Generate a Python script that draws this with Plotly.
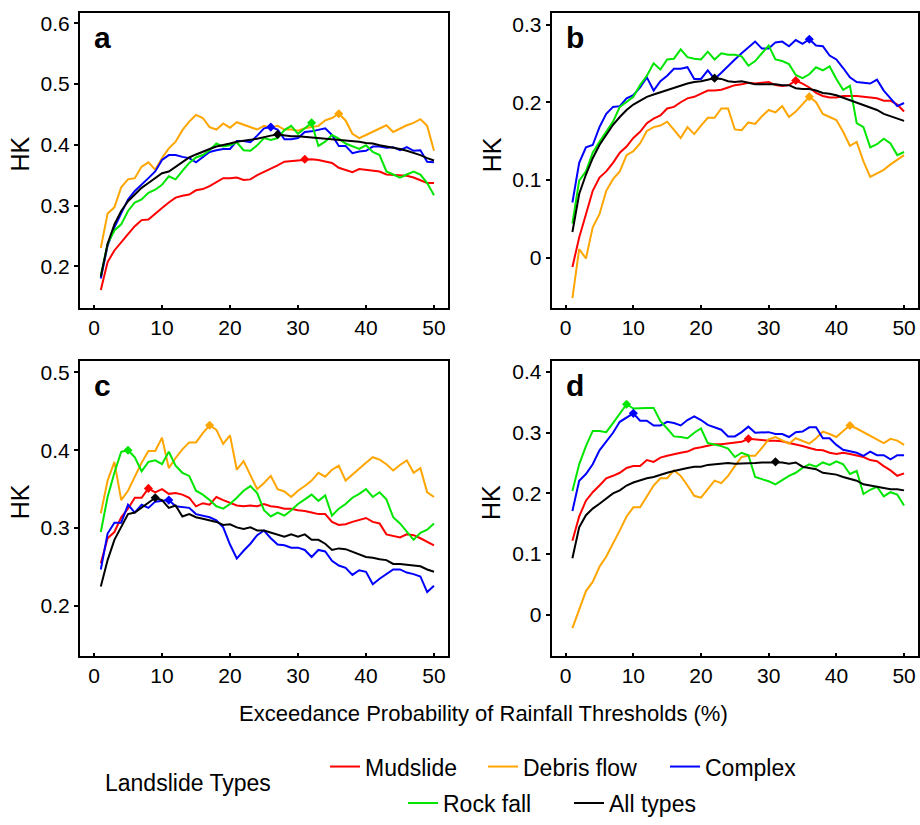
import plotly.graph_objects as go
import numpy as np

x_vals = list(range(1, 51))

# Panel a
a_mud = [0.161,0.207,0.226,0.240,0.253,0.266,0.276,0.277,0.287,0.296,0.305,0.313,0.316,0.318,0.325,0.327,0.332,0.339,0.345,0.345,
         0.346,0.342,0.343,0.350,0.355,0.361,0.366,0.372,0.373,0.374,0.376,0.376,0.375,0.373,0.370,0.362,0.358,0.355,0.360,0.359,
         0.357,0.356,0.351,0.350,0.350,0.349,0.346,0.341,0.337,0.337]
a_deb = [0.230,0.287,0.297,0.330,0.343,0.345,0.364,0.371,0.359,0.378,0.394,0.405,0.424,0.438,0.449,0.444,0.429,0.425,0.435,0.428,
         0.437,0.433,0.429,0.425,0.431,0.428,0.431,0.425,0.425,0.423,0.427,0.429,0.431,0.440,0.444,0.451,0.440,0.418,0.411,0.416,
         0.421,0.427,0.432,0.421,0.427,0.432,0.436,0.442,0.431,0.390]
a_com = [0.180,0.234,0.264,0.286,0.310,0.324,0.334,0.345,0.356,0.375,0.383,0.383,0.380,0.378,0.371,0.380,0.388,0.391,0.393,0.393,
         0.406,0.406,0.404,0.415,0.427,0.429,0.425,0.409,0.409,0.411,0.421,0.422,0.424,0.427,0.416,0.398,0.398,0.386,0.389,0.390,
         0.397,0.397,0.395,0.396,0.391,0.396,0.390,0.391,0.372,0.371]
a_roc = [0.185,0.237,0.259,0.269,0.291,0.305,0.310,0.321,0.326,0.334,0.348,0.343,0.357,0.370,0.379,0.383,0.391,0.402,0.397,0.399,
         0.404,0.391,0.390,0.399,0.411,0.408,0.411,0.424,0.431,0.418,0.427,0.436,0.398,0.405,0.416,0.410,0.402,0.397,0.393,0.399,
         0.388,0.383,0.356,0.351,0.346,0.351,0.356,0.351,0.337,0.317]
a_all = [0.183,0.237,0.269,0.291,0.307,0.318,0.329,0.337,0.345,0.353,0.356,0.364,0.371,0.379,0.384,0.389,0.393,0.397,0.399,0.402,
         0.405,0.406,0.408,0.410,0.413,0.415,0.417,0.415,0.414,0.414,0.413,0.412,0.411,0.410,0.409,0.408,0.408,0.406,0.405,0.403,
         0.402,0.399,0.397,0.396,0.393,0.390,0.387,0.383,0.378,0.374]

# Panel b
b_mud = [-0.012,0.026,0.056,0.086,0.103,0.111,0.122,0.135,0.143,0.154,0.162,0.173,0.179,0.183,0.192,0.194,0.200,0.205,0.207,0.211,
         0.215,0.215,0.216,0.219,0.222,0.223,0.225,0.224,0.225,0.226,0.222,0.221,0.222,0.228,0.224,0.219,0.212,0.208,0.206,0.206,
         0.208,0.208,0.208,0.207,0.206,0.205,0.202,0.202,0.197,0.188]
b_deb = [-0.052,0.011,-0.001,0.039,0.056,0.086,0.101,0.111,0.132,0.137,0.147,0.163,0.168,0.170,0.175,0.164,0.154,0.168,0.159,0.170,
         0.180,0.180,0.192,0.192,0.165,0.164,0.174,0.172,0.182,0.190,0.187,0.195,0.181,0.188,0.197,0.207,0.200,0.185,0.181,0.177,
         0.162,0.144,0.149,0.124,0.104,0.108,0.113,0.120,0.126,0.132]
b_com = [0.071,0.122,0.142,0.145,0.168,0.185,0.194,0.195,0.205,0.209,0.219,0.232,0.215,0.227,0.234,0.243,0.243,0.245,0.230,0.230,
         0.241,0.230,0.238,0.247,0.255,0.263,0.270,0.278,0.269,0.269,0.277,0.278,0.272,0.280,0.275,0.281,0.273,0.272,0.260,0.255,
         0.244,0.232,0.226,0.225,0.224,0.229,0.215,0.205,0.195,0.199]
b_roc = [0.044,0.099,0.111,0.135,0.149,0.162,0.175,0.194,0.201,0.207,0.222,0.234,0.250,0.242,0.255,0.256,0.268,0.258,0.256,0.255,
         0.265,0.255,0.263,0.261,0.261,0.259,0.247,0.253,0.263,0.273,0.255,0.253,0.249,0.235,0.231,0.236,0.245,0.241,0.246,0.230,
         0.216,0.221,0.173,0.168,0.142,0.146,0.153,0.147,0.132,0.136]
b_all = [0.033,0.082,0.107,0.128,0.145,0.158,0.171,0.181,0.190,0.197,0.202,0.207,0.210,0.213,0.215,0.218,0.221,0.224,0.226,0.227,
         0.229,0.231,0.230,0.227,0.226,0.227,0.225,0.223,0.223,0.223,0.223,0.222,0.222,0.218,0.217,0.217,0.215,0.212,0.211,0.209,
         0.206,0.202,0.199,0.196,0.193,0.190,0.185,0.182,0.179,0.176]

# Panel c
c_mud = [0.255,0.287,0.295,0.314,0.325,0.339,0.339,0.351,0.346,0.350,0.344,0.345,0.343,0.339,0.328,0.332,0.330,0.340,0.336,0.332,
         0.329,0.328,0.329,0.328,0.331,0.328,0.327,0.325,0.325,0.323,0.322,0.320,0.318,0.318,0.308,0.304,0.305,0.308,0.311,0.313,
         0.308,0.306,0.292,0.290,0.288,0.292,0.291,0.287,0.282,0.278]
c_deb = [0.319,0.361,0.385,0.336,0.348,0.366,0.384,0.399,0.399,0.416,0.377,0.390,0.401,0.410,0.410,0.422,0.432,0.426,0.408,0.419,
         0.375,0.386,0.367,0.350,0.358,0.367,0.350,0.347,0.340,0.348,0.354,0.361,0.371,0.366,0.375,0.380,0.361,0.369,0.377,0.384,
         0.391,0.388,0.382,0.374,0.381,0.387,0.371,0.377,0.346,0.340]
c_com = [0.247,0.293,0.307,0.307,0.330,0.320,0.330,0.326,0.334,0.335,0.336,0.328,0.327,0.326,0.318,0.316,0.314,0.310,0.301,0.279,
         0.261,0.271,0.280,0.291,0.297,0.287,0.279,0.278,0.275,0.275,0.272,0.263,0.272,0.270,0.258,0.252,0.249,0.240,0.246,0.244,
         0.228,0.235,0.241,0.247,0.247,0.243,0.241,0.238,0.218,0.226]
c_roc = [0.295,0.340,0.371,0.398,0.400,0.391,0.373,0.385,0.387,0.382,0.398,0.380,0.371,0.367,0.348,0.343,0.336,0.328,0.325,0.331,
         0.339,0.348,0.354,0.345,0.323,0.315,0.320,0.316,0.323,0.331,0.337,0.343,0.335,0.342,0.316,0.325,0.331,0.339,0.344,0.350,
         0.340,0.346,0.337,0.314,0.306,0.295,0.285,0.294,0.298,0.306]
c_all = [0.225,0.259,0.285,0.301,0.318,0.320,0.326,0.333,0.339,0.336,0.326,0.329,0.315,0.318,0.314,0.312,0.310,0.308,0.304,0.305,
         0.301,0.299,0.301,0.297,0.297,0.294,0.292,0.289,0.292,0.289,0.292,0.285,0.285,0.280,0.272,0.274,0.273,0.270,0.266,0.263,
         0.262,0.260,0.259,0.254,0.254,0.253,0.252,0.251,0.247,0.244]

# Panel d
d_mud = [0.122,0.162,0.188,0.202,0.213,0.225,0.229,0.234,0.242,0.245,0.245,0.255,0.252,0.259,0.262,0.265,0.267,0.269,0.274,0.276,
         0.278,0.281,0.281,0.282,0.283,0.285,0.290,0.289,0.287,0.287,0.287,0.286,0.283,0.281,0.278,0.275,0.272,0.271,0.267,0.265,
         0.267,0.265,0.263,0.260,0.255,0.253,0.245,0.238,0.229,0.233]
d_deb = [-0.022,0.007,0.039,0.054,0.079,0.096,0.117,0.139,0.162,0.177,0.177,0.194,0.213,0.225,0.225,0.238,0.229,0.213,0.196,0.193,
         0.207,0.221,0.217,0.229,0.245,0.260,0.262,0.262,0.275,0.289,0.293,0.287,0.282,0.291,0.287,0.282,0.291,0.302,0.298,0.293,
         0.303,0.312,0.307,0.301,0.296,0.289,0.283,0.290,0.287,0.280]
d_com = [0.171,0.221,0.232,0.248,0.271,0.286,0.300,0.318,0.325,0.332,0.320,0.320,0.312,0.312,0.318,0.316,0.312,0.321,0.327,0.321,
         0.313,0.309,0.305,0.294,0.294,0.301,0.310,0.300,0.301,0.301,0.298,0.298,0.293,0.301,0.302,0.309,0.309,0.291,0.291,0.280,
         0.272,0.269,0.267,0.262,0.269,0.263,0.263,0.256,0.263,0.263]
d_roc = [0.204,0.248,0.278,0.303,0.303,0.301,0.316,0.332,0.347,0.340,0.341,0.341,0.341,0.319,0.307,0.294,0.293,0.291,0.300,0.307,
         0.283,0.281,0.278,0.274,0.260,0.267,0.263,0.227,0.224,0.220,0.215,0.222,0.229,0.234,0.242,0.248,0.244,0.251,0.247,0.253,
         0.248,0.232,0.237,0.199,0.206,0.211,0.195,0.202,0.198,0.180]
d_all = [0.093,0.144,0.164,0.175,0.183,0.191,0.200,0.205,0.213,0.218,0.222,0.225,0.227,0.231,0.234,0.237,0.240,0.242,0.244,0.244,
         0.247,0.248,0.249,0.250,0.249,0.249,0.250,0.250,0.251,0.251,0.252,0.251,0.249,0.251,0.244,0.242,0.240,0.234,0.233,0.231,
         0.227,0.224,0.221,0.215,0.213,0.211,0.209,0.207,0.207,0.205]

type_names = ["Mudslide", "Debris flow", "Complex", "Rock fall", "All types"]
type_colors = ["#ff0000", "#ffa500", "#0000ff", "#00e600", "#000000"]
panels = {
    "a": [a_mud, a_deb, a_com, a_roc, a_all],
    "b": [b_mud, b_deb, b_com, b_roc, b_all],
    "c": [c_mud, c_deb, c_com, c_roc, c_all],
    "d": [d_mud, d_deb, d_com, d_roc, d_all],
}
# which series show a peak marker in each panel
peak_marked = {"a": [1, 1, 1, 1, 1], "b": [1, 1, 1, 0, 1], "c": [1, 1, 1, 1, 1], "d": [1, 1, 1, 1, 1]}
y_ranges = {"a": [0.131, 0.617], "b": [-0.065, 0.315], "c": [0.136, 0.515], "d": [-0.068, 0.419]}
x_ticks = [0, 10, 20, 30, 40, 50]

W, H = 920, 825
def px(x): return x / W
def py(y): return 1 - y / H

# pixel boxes: left, right, top, bottom
boxes = {"a": (80, 448, 13, 312), "b": (551.7, 918, 13, 312),
         "c": (80, 448, 365, 664), "d": (551.7, 918, 365, 664)}

# legend placement (one legend box per entry): line start x, row centre y
legend_ids = ["legend", "legend2", "legend3", "legend4", "legend5"]
legend_pos = [(331, 776), (489, 776), (671, 776), (409, 813), (575, 813)]

fig = go.Figure()
FONT = "Arial, Liberation Sans, sans-serif"
ann = []
for i, key in enumerate(["a", "b", "c", "d"]):
    n = "" if i == 0 else str(i + 1)
    xa, ya = "x" + n, "y" + n
    for j, (name, col) in enumerate(zip(type_names, type_colors)):
        ys = panels[key][j]
        fig.add_trace(go.Scatter(x=x_vals, y=ys, mode="lines", name=name,
                                 line=dict(color=col, width=2), xaxis=xa, yaxis=ya,
                                 legend=legend_ids[j], showlegend=(i == 0)))
    for j, col in enumerate(type_colors):
        if not peak_marked[key][j]:
            continue
        ys = panels[key][j]
        k = int(np.argmax(ys))
        fig.add_trace(go.Scatter(x=[x_vals[k]], y=[ys[k]], mode="markers",
                                 marker=dict(symbol="diamond", size=7, color=col),
                                 xaxis=xa, yaxis=ya, showlegend=False))
    l, r, t, b = boxes[key]
    axis_common = dict(showline=True, mirror=True, linecolor="black", linewidth=2,
                       showgrid=False, zeroline=False, tickcolor="black",
                       tickwidth=1.5, tickfont=dict(family=FONT, size=21, color="black"))
    fig.update_layout(**{
        "xaxis" + n: dict(domain=[px(l), px(r)], range=[-2.06, 52.06], tickvals=x_ticks,
                          ticks="inside", ticklen=3, anchor=ya, **axis_common),
        "yaxis" + n: dict(domain=[py(b), py(t)], range=y_ranges[key], dtick=0.1,
                          ticks="outside", ticklen=4, anchor=xa, **axis_common),
    })
    ann.append(dict(text="<b>" + key + "</b>", x=px(l + 12), y=py(t + 25), xref="paper", yref="paper",
                    xanchor="left", yanchor="middle", showarrow=False,
                    font=dict(family=FONT, size=30, color="black")))
    ann.append(dict(text="HK", x=px(l - 60), y=py((t + b) / 2 - 6), xref="paper", yref="paper",
                    xanchor="center", yanchor="middle", textangle=-90, showarrow=False,
                    font=dict(family=FONT, size=25, color="black")))

ann.append(dict(text="Exceedance Probability of Rainfall Thresholds (%)", x=px(484), y=py(722),
                xref="paper", yref="paper", xanchor="center", yanchor="middle", showarrow=False,
                font=dict(family=FONT, size=22, color="black")))
ann.append(dict(text="Landslide Types", x=px(103), y=py(793), xref="paper", yref="paper",
                xanchor="left", yanchor="middle", showarrow=False,
                font=dict(family=FONT, size=23, color="black")))

layout_legends = {}
for lid, (lx, ly) in zip(legend_ids, legend_pos):
    layout_legends[lid] = dict(orientation="h", font=dict(family=FONT, size=23, color="black"),
                               bgcolor="rgba(0,0,0,0)", xanchor="left", yanchor="middle",
                               itemwidth=30, x=px(lx - 6), y=py(ly))

fig.update_layout(
    width=W, height=H, margin=dict(l=0, r=0, t=0, b=0),
    paper_bgcolor="white", plot_bgcolor="white",
    annotations=ann,
    **layout_legends,
)

fig.write_html("out.html")
